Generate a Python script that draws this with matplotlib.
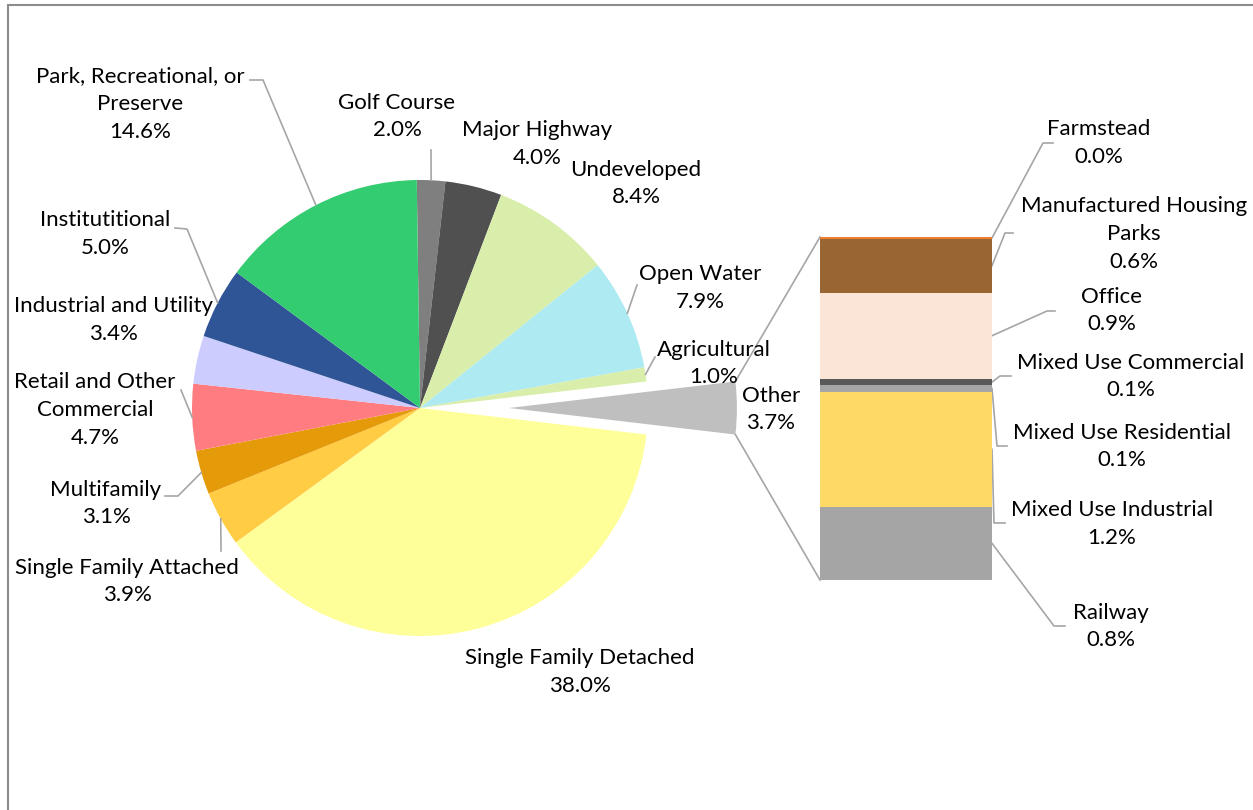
import matplotlib.pyplot as plt
from matplotlib import font_manager
from matplotlib.patches import Rectangle
import numpy as np

W, H = 1253, 810

# pie slices, clockwise from the top
pie_names = ["Golf Course", "Major Highway", "Undeveloped", "Open Water", "Agricultural", "Other",
             "Single Family Detached", "Single Family Attached", "Multifamily",
             "Retail and Other\nCommercial", "Industrial and Utility", "Institutitional",
             "Park, Recreational, or\nPreserve"]
pie_values = [2.0, 4.0, 8.4, 7.9, 1.0, 3.7, 38.0, 3.9, 3.1, 4.7, 3.4, 5.0, 14.6]
pie_colors = ["#7F7F7F", "#505050", "#D8EEAA", "#AEEAF2", "#D8EEAA", "#BFBFBF",
              "#FFFF99", "#FFCC44", "#E59A0A", "#FF7C80", "#CCCCFF", "#2F5597", "#33CC70"]

# the "Other" breakdown, bottom to top
bar_names = ["Railway", "Mixed Use Industrial", "Mixed Use Residential", "Mixed Use Commercial",
             "Office", "Manufactured Housing\nParks", "Farmstead"]
bar_values = [0.79, 1.24, 0.07, 0.07, 0.93, 0.58, 0.02]
bar_colors = ["#A5A5A5", "#FFD966", "#A5A5A5", "#595959", "#FBE5D6", "#996633", "#ED7D31"]

OTHER = pie_names.index("Other")

# label centres and leader elbows, in picture pixels (y down)
pie_label_xy = [(397, 116.5), (537, 144), (636, 183.5), (700, 288), (714, 363.5), (771, 409.5),
                (580, 672), (127, 581.5), (106, 503.5), (95, 410), (113, 320), (105, 234), (140, 104)]
pie_leaders = [[(431, 150)], None, None, [(637, 285)], [(655, 357)], None, None,
               [(221, 551)], [(165, 496), (178, 496)], [(181, 390)], None,
               [(175, 228), (187, 229)], [(250, 80), (263, 80)]]
bar_label_xy = [(1111, 626.5), (1112, 524), (1122, 446.5), (1131, 376.5), (1112, 310.5),
                (1134, 234), (1099, 143)]
bar_leaders = [[(1065, 626), (1054, 626)], [(1005, 523), (994, 523)], [(1007, 446), (997, 446)],
               [(1011, 376), (1000, 376)], [(1055, 311), (1047, 311)], [(1013, 233), (1005, 233)],
               [(1053, 143), (1043, 143)]]

installed = {f.name for f in font_manager.fontManager.ttflist}
if "Liberation Sans Narrow" in installed:
    FONT, FS = "Liberation Sans Narrow", 18.5
else:
    FONT, FS = "Lato", 16
plt.rcParams["font.family"] = [FONT, "DejaVu Sans"]

LINE = "#A6A6A6"
LSP = 1.47


def Y(y):
    return H - y


fig = plt.figure(figsize=(W / 100, H / 100), dpi=100)
ax = fig.add_axes([0, 0, 1, 1])

total = sum(pie_values)
start = 360 * (sum(pie_values[:OTHER]) + pie_values[OTHER] / 2) / total
cx, cy, R = 420, Y(408), 228
# pie() takes explode as an offset in data units, here pixels
explode = [0.39 * R if i == OTHER else 0 for i in range(len(pie_values))]
wedges, _ = ax.pie(pie_values, colors=pie_colors, startangle=start, counterclock=False,
                   center=(cx, cy), radius=R, explode=explode,
                   wedgeprops=dict(linewidth=0))
ax.set_xlim(0, W)
ax.set_ylim(0, H)
ax.set_aspect("equal")
ax.axis("off")

# chart border (left and top visible)
ax.add_patch(Rectangle((8, Y(H + 20)), W + 20, H + 15, fill=False, edgecolor="#8C8C8C", lw=1.5))

for i, w in enumerate(wedges):
    tx, ty = pie_label_xy[i]
    ax.text(tx, Y(ty), f"{pie_names[i]}\n{pie_values[i]:.1f}%", ha="center", va="center",
            multialignment="center", fontsize=FS, color="black", linespacing=LSP)
    if pie_leaders[i]:
        mid = np.radians((w.theta1 + w.theta2) / 2)
        ex = w.center[0] + w.r * np.cos(mid)
        ey = w.center[1] + w.r * np.sin(mid)
        xs = [p[0] for p in pie_leaders[i]] + [ex]
        ys = [Y(p[1]) for p in pie_leaders[i]] + [ey]
        ax.plot(xs, ys, color=LINE, lw=1.2)

# stacked bar for "Other"
bx0, by0, bw, bh = 820, 580, 172, 343
bax = fig.add_axes([bx0 / W, Y(by0) / H, bw / W, bh / H])
cum = np.concatenate([[0], np.cumsum(bar_values)[:-1]])
bax.bar(0, bar_values, bottom=cum, width=1, color=bar_colors, linewidth=0)
bax.set_xlim(-0.5, 0.5)
bax.set_ylim(0, sum(bar_values))
bax.axis("off")

to_main = bax.transData + ax.transData.inverted()
for i, v in enumerate(bar_values):
    tx, ty = bar_label_xy[i]
    ax.text(tx, Y(ty), f"{bar_names[i]}\n{v:.1f}%", ha="center", va="center",
            multialignment="center", fontsize=FS, color="black", linespacing=LSP)
    ex, ey = to_main.transform((0.5, cum[i] + v / 2))
    xs = [p[0] for p in bar_leaders[i]] + [ex]
    ys = [Y(p[1]) for p in bar_leaders[i]] + [ey]
    ax.plot(xs, ys, color=LINE, lw=1.2)

# connectors from the exploded slice to the bar
ow = wedges[OTHER]
top_pt = (ow.center[0] + ow.r * np.cos(np.radians(ow.theta2)),
          ow.center[1] + ow.r * np.sin(np.radians(ow.theta2)))
bot_pt = (ow.center[0] + ow.r * np.cos(np.radians(ow.theta1)),
          ow.center[1] + ow.r * np.sin(np.radians(ow.theta1)))
bar_top = to_main.transform((-0.5, sum(bar_values)))
bar_bot = to_main.transform((-0.5, 0))
ax.plot([top_pt[0], bar_top[0]], [top_pt[1], bar_top[1]], color=LINE, lw=1.2)
ax.plot([bot_pt[0], bar_bot[0]], [bot_pt[1], bar_bot[1]], color=LINE, lw=1.2)

fig.savefig("out.png", dpi=100)
